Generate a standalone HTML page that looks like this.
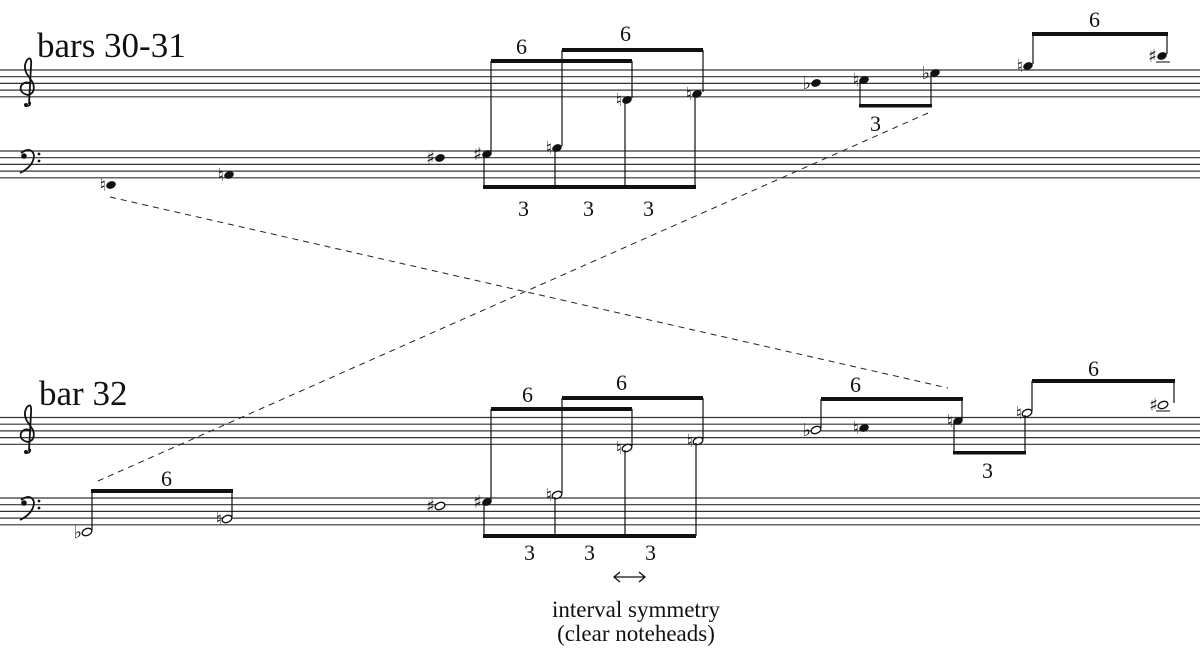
<!DOCTYPE html>
<html><head><meta charset="utf-8"><style>
html,body{margin:0;padding:0;background:#fff;}
svg{display:block;}
text{font-family:"Liberation Serif",serif;fill:#111;}
.acc{font-family:"DejaVu Sans",sans-serif;font-size:18px;text-anchor:end;}
</style></head><body>
<svg width="1200" height="667" viewBox="0 0 1200 667" xmlns="http://www.w3.org/2000/svg">
<defs>
<ellipse id="f" rx="5" ry="3.6" fill="#111" transform="rotate(-22)"/>
<g id="h"><ellipse rx="5" ry="3.4" fill="#fff" stroke="#111" stroke-width="1.3" transform="rotate(-22)"/></g>
</defs>
<!-- staves -->
<g stroke="#333" stroke-width="1.2">
<line x1="0" x2="1200" y1="70" y2="70"/><line x1="0" x2="1200" y1="76.7" y2="76.7"/><line x1="0" x2="1200" y1="83.4" y2="83.4"/><line x1="0" x2="1200" y1="90.1" y2="90.1"/><line x1="0" x2="1200" y1="96.8" y2="96.8"/>
<line x1="0" x2="1200" y1="151" y2="151"/><line x1="0" x2="1200" y1="157.7" y2="157.7"/><line x1="0" x2="1200" y1="164.4" y2="164.4"/><line x1="0" x2="1200" y1="171.1" y2="171.1"/><line x1="0" x2="1200" y1="177.8" y2="177.8"/>
<line x1="0" x2="1200" y1="417.5" y2="417.5"/><line x1="0" x2="1200" y1="424.2" y2="424.2"/><line x1="0" x2="1200" y1="430.9" y2="430.9"/><line x1="0" x2="1200" y1="437.6" y2="437.6"/><line x1="0" x2="1200" y1="444.3" y2="444.3"/>
<line x1="0" x2="1200" y1="498" y2="498"/><line x1="0" x2="1200" y1="504.7" y2="504.7"/><line x1="0" x2="1200" y1="511.4" y2="511.4"/><line x1="0" x2="1200" y1="518.1" y2="518.1"/><line x1="0" x2="1200" y1="524.8" y2="524.8"/>
</g>
<!-- clefs -->
<g fill="none" stroke="#111" stroke-width="1.8">
<path d="M30 102 Q31 106 26 106 M29 104 L31 66 Q32 55 27 60 Q22 68 29 77 L33 83 Q36 93 28 95 Q19 93 21 86 Q25 80 31 84"/>
<path d="M30 449 Q31 453 26 453 M29 451 L31 413 Q32 402 27 407 Q22 415 29 424 L33 430 Q36 440 28 442 Q19 440 21 433 Q25 427 31 431"/>
<path d="M21 153 Q31 146 34 155 Q34 166 20 173"/>
<path d="M21 500 Q31 493 34 502 Q34 513 20 520"/>
</g>
<g fill="#111"><circle cx="24" cy="156" r="2.8"/><circle cx="39" cy="154" r="1.4"/><circle cx="39" cy="161" r="1.4"/>
<circle cx="24" cy="503" r="2.8"/><circle cx="39" cy="501" r="1.4"/><circle cx="39" cy="508" r="1.4"/>
<circle cx="26" cy="105" r="2"/><circle cx="26" cy="452" r="2"/></g>

<text x="37" y="57" font-size="35">bars 30-31</text>
<text x="39" y="405" font-size="35">bar 32</text>

<!-- dashed lines -->
<g stroke="#222" stroke-width="1" stroke-dasharray="6,5">
<line x1="110" y1="197" x2="948" y2="388"/>
<line x1="928" y1="113" x2="98" y2="481"/>
</g>

<!-- TOP SYSTEM -->
<use href="#f" x="111" y="185"/><text class="acc" x="106" y="191">♮</text>
<use href="#f" x="229" y="175"/><text class="acc" x="224" y="181">♮</text>
<use href="#f" x="440" y="158"/><text class="acc" x="435" y="164">♯</text>
<use href="#f" x="487" y="154"/><text class="acc" x="482" y="160">♯</text>
<use href="#f" x="557" y="148"/><text class="acc" x="552" y="154">♮</text>
<use href="#f" x="627" y="100"/><text class="acc" x="622" y="106">♮</text>
<use href="#f" x="697" y="94"/><text class="acc" x="692" y="100">♮</text>
<g stroke="#111" stroke-width="1.2">
<line x1="491" y1="152" x2="491" y2="61"/><line x1="484" y1="156" x2="484" y2="187"/>
<line x1="562" y1="146" x2="562" y2="50"/><line x1="555" y1="150" x2="555" y2="187"/>
<line x1="632" y1="98" x2="632" y2="61"/><line x1="625" y1="102" x2="625" y2="187"/>
<line x1="703" y1="92" x2="703" y2="50"/><line x1="695" y1="96" x2="695" y2="187"/>
</g>
<g fill="#111"><rect x="491" y="59" width="141" height="4"/><rect x="562" y="48" width="141" height="4"/><rect x="483" y="185" width="213" height="4"/></g>
<text x="516" y="54" font-size="22">6</text><text x="620" y="41" font-size="22">6</text>
<text x="518" y="216" font-size="22">3</text><text x="583" y="216" font-size="22">3</text><text x="643" y="216" font-size="22">3</text>

<use href="#f" x="816" y="83"/><text class="acc" x="811" y="89">♭</text>
<use href="#f" x="864" y="80"/><text class="acc" x="859" y="86">♮</text>
<use href="#f" x="935" y="73"/><text class="acc" x="930" y="79">♭</text>
<g stroke="#111" stroke-width="1.2"><line x1="860" y1="82" x2="860" y2="106"/><line x1="931" y1="75" x2="931" y2="106"/></g>
<rect x="859" y="104" width="73" height="3.5" fill="#111"/>
<text x="870" y="131" font-size="22">3</text>

<use href="#f" x="1028" y="66"/><text class="acc" x="1023" y="72">♮</text>
<use href="#f" x="1162" y="56"/><text class="acc" x="1157" y="62">♯</text>
<line x1="1156" y1="62" x2="1170" y2="62" stroke="#333" stroke-width="1.2"/>
<g stroke="#111" stroke-width="1.2"><line x1="1033" y1="64" x2="1033" y2="34"/><line x1="1167" y1="54" x2="1167" y2="34"/></g>
<rect x="1032" y="32" width="136" height="4" fill="#111"/>
<text x="1089" y="27" font-size="22">6</text>

<!-- BOTTOM SYSTEM -->
<use href="#h" x="87" y="532"/><text class="acc" x="82" y="538">♭</text>
<use href="#h" x="227" y="519"/><text class="acc" x="222" y="525">♮</text>
<g stroke="#111" stroke-width="1.2"><line x1="92" y1="530" x2="92" y2="491"/><line x1="232" y1="517" x2="232" y2="491"/></g>
<rect x="91" y="489" width="142" height="4" fill="#111"/>
<text x="161" y="486" font-size="22">6</text>

<use href="#h" x="440" y="506"/><text class="acc" x="435" y="512">♯</text>
<use href="#f" x="487" y="502"/><text class="acc" x="482" y="508">♯</text>
<use href="#h" x="557" y="495"/><text class="acc" x="552" y="501">♮</text>
<use href="#h" x="627" y="448"/><text class="acc" x="622" y="454">♮</text>
<use href="#h" x="698" y="441"/><text class="acc" x="693" y="447">♮</text>
<g stroke="#111" stroke-width="1.2">
<line x1="491" y1="500" x2="491" y2="409"/><line x1="484" y1="504" x2="484" y2="536"/>
<line x1="562" y1="493" x2="562" y2="398"/><line x1="555" y1="497" x2="555" y2="536"/>
<line x1="632" y1="446" x2="632" y2="409"/><line x1="625" y1="450" x2="625" y2="536"/>
<line x1="703" y1="439" x2="703" y2="398"/><line x1="696" y1="443" x2="696" y2="536"/>
</g>
<g fill="#111"><rect x="491" y="407" width="141" height="4"/><rect x="562" y="396" width="141" height="4"/><rect x="483" y="534" width="213" height="4"/></g>
<text x="522" y="402" font-size="22">6</text><text x="616" y="390" font-size="22">6</text>
<text x="524" y="560" font-size="22">3</text><text x="584" y="560" font-size="22">3</text><text x="645" y="560" font-size="22">3</text>

<g stroke="#111" stroke-width="1.3" fill="none">
<line x1="614" y1="577" x2="645" y2="577"/>
<path d="M620 572 L614 577 L620 582"/><path d="M639 572 L645 577 L639 582"/>
</g>
<text x="636" y="617" font-size="23" text-anchor="middle">interval symmetry</text>
<text x="636" y="641" font-size="23" text-anchor="middle">(clear noteheads)</text>

<use href="#h" x="816" y="430"/><text class="acc" x="811" y="436">♭</text>
<use href="#f" x="864" y="428"/><text class="acc" x="859" y="434">♮</text>
<use href="#f" x="958" y="421"/><text class="acc" x="953" y="427">♮</text>
<use href="#h" x="1027" y="413"/><text class="acc" x="1022" y="419">♮</text>
<use href="#h" x="1163" y="405"/><text class="acc" x="1158" y="411">♯</text>
<line x1="1156" y1="411" x2="1170" y2="411" stroke="#333" stroke-width="1.2"/>
<g stroke="#111" stroke-width="1.2">
<line x1="821" y1="428" x2="821" y2="399"/>
<line x1="962" y1="419" x2="962" y2="399"/><line x1="954" y1="423" x2="954" y2="453"/>
<line x1="1032" y1="411" x2="1032" y2="381"/><line x1="1025" y1="415" x2="1025" y2="453"/>
<line x1="1174" y1="403" x2="1174" y2="381"/>
</g>
<g fill="#111"><rect x="821" y="397" width="142" height="4"/><rect x="953" y="451" width="73" height="3.5"/><rect x="1032" y="379" width="143" height="4"/></g>
<text x="850" y="392" font-size="22">6</text><text x="982" y="478" font-size="22">3</text><text x="1088" y="376" font-size="22">6</text>
</svg>
</body></html>
